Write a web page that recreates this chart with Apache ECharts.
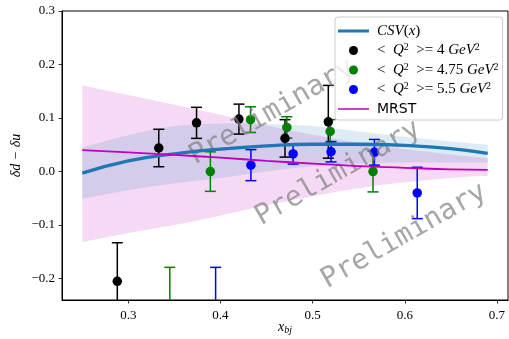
<!DOCTYPE html>
<html>
<head>
<meta charset="utf-8">
<script src="https://cdn.jsdelivr.net/npm/echarts@6/dist/echarts.min.js"></script>
<style>
html, body { margin: 0; padding: 0; background: #fff; }
#chart { width: 509px; height: 339px; }
</style>
</head>
<body>
<div id="chart"></div>
<script>
// tick positions
var xTicks = [0.3, 0.4, 0.5, 0.6, 0.7];
var yTicks = [-0.2, -0.1, 0.0, 0.1, 0.2, 0.3];

// curves sampled along x
var curveX  = [0.25, 0.30, 0.35, 0.40, 0.45, 0.50, 0.55, 0.60, 0.65, 0.69];
var csvMid  = [-0.003, 0.020, 0.033, 0.042, 0.048, 0.051, 0.051, 0.049, 0.043, 0.034];
var csvLo   = [-0.051, -0.035, -0.022, -0.012, 0.000, 0.010, 0.015, 0.017, 0.017, 0.017];
var csvHi   = [0.045, 0.068, 0.085, 0.090, 0.089, 0.085, 0.075, 0.065, 0.056, 0.050];
var mrstMid = [0.040, 0.036, 0.031, 0.026, 0.020, 0.015, 0.010, 0.007, 0.004, 0.003];
var mrstLo  = [-0.132, -0.115, -0.100, -0.082, -0.063, -0.046, -0.031, -0.020, -0.012, -0.008];
var mrstHi  = [0.161, 0.143, 0.125, 0.106, 0.086, 0.069, 0.054, 0.042, 0.032, 0.025];

// data points: [x, value, error]
var q4   = [[0.288, -0.205, 0.072], [0.333, 0.044, 0.035], [0.374, 0.091, 0.029],
            [0.420, 0.098, 0.028], [0.470, 0.062, 0.035], [0.517, 0.093, 0.068]];
var q475 = [[0.345, -0.250, 0.071], [0.389, 0.000, 0.037], [0.4326, 0.097, 0.024],
            [0.472, 0.0825, 0.020], [0.519, 0.075, 0.022], [0.5655, 0.000, 0.038]];
var q55  = [[0.3947, -0.260, 0.081], [0.433, 0.012, 0.029], [0.4788, 0.033, 0.019],
            [0.520, 0.037, 0.019], [0.567, 0.036, 0.024], [0.6135, -0.040, 0.048]];

var serif = 'Liberation Serif';

function pairs(xs, ys) {
    return xs.map(function (x, i) { return [x, ys[i]]; });
}

// catmull-rom through pixel points -> cubic bezier path commands
function curveCmds(p) {
    var d = '';
    for (var i = 0; i < p.length - 1; i++) {
        var p0 = p[i - 1] || p[i], p1 = p[i], p2 = p[i + 1], p3 = p[i + 2] || p[i + 1];
        var c1x = p1[0] + (p2[0] - p0[0]) / 6, c1y = p1[1] + (p2[1] - p0[1]) / 6;
        var c2x = p2[0] - (p3[0] - p1[0]) / 6, c2y = p2[1] - (p3[1] - p1[1]) / 6;
        d += ' C' + c1x + ',' + c1y + ' ' + c2x + ',' + c2y + ' ' + p2[0] + ',' + p2[1];
    }
    return d;
}

function band(name, lo, hi, fill) {
    return {
        name: name,
        type: 'custom',
        data: curveX.map(function (x, i) { return [x, lo[i], hi[i]]; }),
        encode: { x: 0, y: [1, 2] },
        clip: true,
        silent: true,
        renderItem: function (params, api) {
            if (params.dataIndex !== 0) return null;
            var up = curveX.map(function (x, i) { return api.coord([x, hi[i]]); });
            var dn = curveX.map(function (x, i) { return api.coord([x, lo[i]]); }).reverse();
            var d = 'M' + up[0][0] + ',' + up[0][1] + curveCmds(up) +
                    ' L' + dn[0][0] + ',' + dn[0][1] + curveCmds(dn) + ' Z';
            return { type: 'path', shape: { pathData: d }, style: { fill: fill, stroke: null } };
        }
    };
}

function errorBars(color) {
    return function (params, api) {
        var x = api.value(0), y = api.value(1), e = api.value(2);
        var top = api.coord([x, y + e]);
        var bot = api.coord([x, y - e]);
        var st = { stroke: color, lineWidth: 1.5, fill: null };
        return {
            type: 'group',
            children: [
                { type: 'line', shape: { x1: top[0], y1: top[1], x2: bot[0], y2: bot[1] }, style: st },
                { type: 'line', shape: { x1: top[0] - 5.5, y1: top[1], x2: top[0] + 5.5, y2: top[1] }, style: st },
                { type: 'line', shape: { x1: bot[0] - 5.5, y1: bot[1], x2: bot[0] + 5.5, y2: bot[1] }, style: st }
            ]
        };
    };
}

function points(name, data, color) {
    return [{
        name: name + ' err',
        type: 'custom',
        renderItem: errorBars(color),
        data: data,
        encode: { x: 0, y: 1 },
        clip: true,
        silent: true
    }, {
        name: name,
        type: 'scatter',
        data: data.map(function (d) { return [d[0], d[1]]; }),
        symbolSize: 9.5,
        itemStyle: { color: color, opacity: 1 },
        clip: true
    }];
}

var labelText = {
    'CSV(x)': '{i|CSV}{r|(}{i|x}{r|)}',
    'Q4': '{r|<  }{i|Q}{sup|2}{r|  >= 4 }{i|GeV}{sup|2}',
    'Q475': '{r|<  }{i|Q}{sup|2}{r|  >= 4.75 }{i|GeV}{sup|2}',
    'Q55': '{r|<  }{i|Q}{sup|2}{r|  >= 5.5 }{i|GeV}{sup|2}',
    'MRST': '{s|MRST}'
};

function tickFmt(v) {
    return v.toFixed(1).replace('-', '\u2212');
}

var chart = echarts.init(document.getElementById('chart'));
var option = {
    animation: false,
    grid: {
        left: 62, right: 1, top: 11, bottom: 39,
        outerBoundsMode: 'none',
        containLabel: false,
        show: true, borderColor: '#000', borderWidth: 1, backgroundColor: 'transparent'
    },
    xAxis: {
        type: 'value',
        min: 0.228,
        max: 0.712,
        name: '{i|x}{s|bj}',
        nameLocation: 'middle',
        nameGap: 19,
        nameMoveOverlap: false,
        nameTextStyle: {
            rich: {
                i: { fontFamily: serif, fontStyle: 'italic', fontSize: 14, color: '#000', lineHeight: 16 },
                s: { fontFamily: serif, fontStyle: 'italic', fontSize: 10, color: '#000', lineHeight: 16, verticalAlign: 'bottom' }
            }
        },
        splitLine: { show: false },
        axisLine: { show: true, onZero: false, lineStyle: { color: '#000', width: 1 } },
        axisTick: { show: true, inside: false, length: 3.5, lineStyle: { color: '#000', width: 0.8 }, customValues: xTicks },
        axisLabel: { fontFamily: serif, fontSize: 13, color: '#000', margin: 9, customValues: xTicks, formatter: tickFmt }
    },
    yAxis: {
        type: 'value',
        min: -0.24,
        max: 0.3,
        name: '\u03b4d \u2212 \u03b4u',
        nameLocation: 'middle',
        nameGap: 39,
        nameRotate: 90,
        nameMoveOverlap: false,
        nameTextStyle: { fontFamily: serif, fontStyle: 'italic', fontSize: 14, color: '#000' },
        splitLine: { show: false },
        axisLine: { show: true, onZero: false, lineStyle: { color: '#000', width: 1 } },
        axisTick: { show: true, inside: false, length: 3.5, lineStyle: { color: '#000', width: 0.8 }, customValues: yTicks },
        axisLabel: { fontFamily: serif, fontSize: 13, color: '#000', margin: 7, customValues: yTicks, formatter: tickFmt }
    },
    legend: {
        orient: 'vertical',
        left: 335,
        top: 17,
        padding: [6, 4, 3, 3],
        itemGap: 3.5,
        itemWidth: 31,
        itemHeight: 9,
        backgroundColor: 'rgba(255,255,255,0.8)',
        borderColor: '#cccccc',
        borderWidth: 1,
        borderRadius: 3,
        selectedMode: false,
        data: [
            { name: 'CSV(x)', icon: 'path://M0,0L31,0L31,3L0,3Z', itemStyle: { color: '#1f77b4', borderWidth: 0 } },
            { name: 'Q4', icon: 'circle', itemStyle: { color: '#000000', borderWidth: 0 } },
            { name: 'Q475', icon: 'circle', itemStyle: { color: '#008000', borderWidth: 0 } },
            { name: 'Q55', icon: 'circle', itemStyle: { color: '#0000ff', borderWidth: 0 } },
            { name: 'MRST', icon: 'path://M0,0L62,0L62,3L0,3Z', itemStyle: { color: '#bf00bf', borderWidth: 0 } }
        ],
        formatter: function (name) { return labelText[name]; },
        textStyle: {
            lineHeight: 16,
            padding: [0, 0, 0, 3],
            rich: {
                i: { fontFamily: serif, fontStyle: 'italic', fontSize: 15, color: '#000', lineHeight: 16 },
                r: { fontFamily: serif, fontSize: 15, color: '#000', lineHeight: 16 },
                sup: { fontFamily: serif, fontSize: 10, color: '#000', verticalAlign: 'top', lineHeight: 12 },
                s: { fontFamily: 'DejaVu Sans', fontSize: 14, color: '#000', lineHeight: 16 }
            }
        }
    },
    graphic: [
        { type: 'text', x: 272, y: 112, rotation: 0.52, z: 3, style: { text: 'Preliminary', font: '28px "DejaVu Sans Mono"', fill: 'rgba(128,128,128,0.7)', align: 'center', verticalAlign: 'middle' } },
        { type: 'text', x: 338, y: 173, rotation: 0.52, z: 3, style: { text: 'Preliminary', font: '28px "DejaVu Sans Mono"', fill: 'rgba(128,128,128,0.7)', align: 'center', verticalAlign: 'middle' } },
        { type: 'text', x: 404, y: 236, rotation: 0.52, z: 3, style: { text: 'Preliminary', font: '28px "DejaVu Sans Mono"', fill: 'rgba(128,128,128,0.7)', align: 'center', verticalAlign: 'middle' } }
    ],
    series: [].concat(
        [
            band('mrst band', mrstLo, mrstHi, 'rgba(191,0,191,0.15)'),
            band('csv band', csvLo, csvHi, 'rgba(31,119,180,0.15)'),
            {
                name: 'CSV(x)',
                type: 'line',
                data: pairs(curveX, csvMid),
                smooth: true,
                symbol: 'none',
                lineStyle: { color: '#1f77b4', width: 3.3 },
                itemStyle: { color: '#1f77b4' }
            }, {
                name: 'MRST',
                type: 'line',
                data: pairs(curveX, mrstMid),
                smooth: true,
                symbol: 'none',
                lineStyle: { color: '#bf00bf', width: 1.8 },
                itemStyle: { color: '#bf00bf' }
            }
        ],
        points('Q4', q4, '#000000'),
        points('Q475', q475, '#008000'),
        points('Q55', q55, '#0000ff')
    )
};
chart.setOption(option);
</script>
</body>
</html>
